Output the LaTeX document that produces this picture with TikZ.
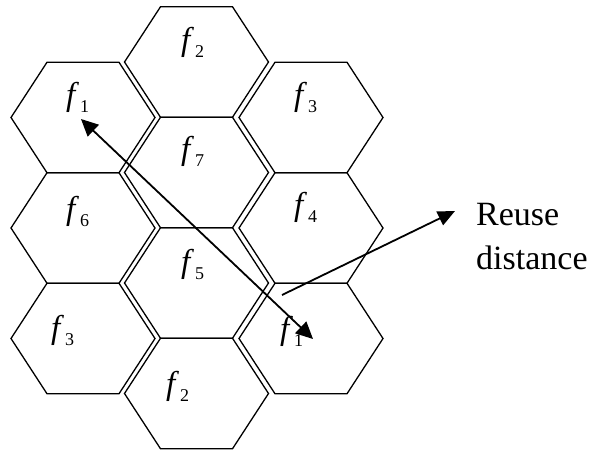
\documentclass[tikz,border=0pt]{standalone}
\usepackage{fontspec}
\setmainfont{Liberation Serif}[ItalicFont=Liberation Serif Italic]
\usetikzlibrary{arrows.meta}
\newcommand\flab[1]{\textit{f}\kern1pt\raisebox{-7pt}{\fontsize{18}{18}\selectfont #1}}
\begin{document}
\begin{tikzpicture}[x=1pt,y=-1pt,
  hex/.style={draw,line width=1.3pt,line join=miter},
  lab/.style={anchor=base west,inner sep=0pt,font=\fontsize{33}{33}\selectfont},
  arr/.style={line width=1.8pt}]
\useasboundingbox (0,0) rectangle (597,453);
% hexagon centres
\coordinate (L1) at (83,117.5);
\coordinate (L2) at (83,228);
\coordinate (L3) at (83,338.5);
\coordinate (M1) at (196.5,62);
\coordinate (M2) at (196.5,172.5);
\coordinate (M3) at (196.5,283);
\coordinate (M4) at (196.5,393.5);
\coordinate (R1) at (311,117.5);
\coordinate (R2) at (311,228);
\coordinate (R3) at (311,338.5);
\foreach \c in {L1,L2,L3,M1,M2,M3,M4,R1,R2,R3}
  \draw[hex] (\c) ++(-72,0) -- ++(36,-55.25) -- ++(72,0) -- ++(36,55.25)
    -- ++(-36,55.25) -- ++(-72,0) -- cycle;
% labels
\node[lab] (tL1) at (66,105) {\flab{1}};
\node[lab] (tL2) at (66,219) {\flab{6}};
\node[lab] (tL3) at (51,338) {\flab{3}};
\node[lab] (tM1) at (181,50) {\flab{2}};
\node[lab] (tM2) at (181,159) {\flab{7}};
\node[lab] (tM3) at (181,272) {\flab{5}};
\node[lab] (tM4) at (166,394) {\flab{2}};
\node[lab] (tR1) at (294,105) {\flab{3}};
\node[lab] (tR2) at (294,215) {\flab{4}};
\node[lab] (tR3) at (280,339) {\flab{1}};
% arrows
\coordinate (pA) at (81,119);
\coordinate (pB) at (313,339);
\coordinate (pC) at (282,295);
\coordinate (pD) at (455,211);
\draw[arr,{Triangle[length=17pt,width=16pt]}-{Triangle[length=17pt,width=16pt]}] (pA) -- (pB);
\draw[arr,-{Triangle[length=17pt,width=15pt]}] (pC) -- (pD);
\node[anchor=north west,align=left,inner sep=0pt,font=\fontsize{34}{44}\selectfont] (txt) at (476,203.5) {Reuse\\distance};
\end{tikzpicture}
\end{document}
